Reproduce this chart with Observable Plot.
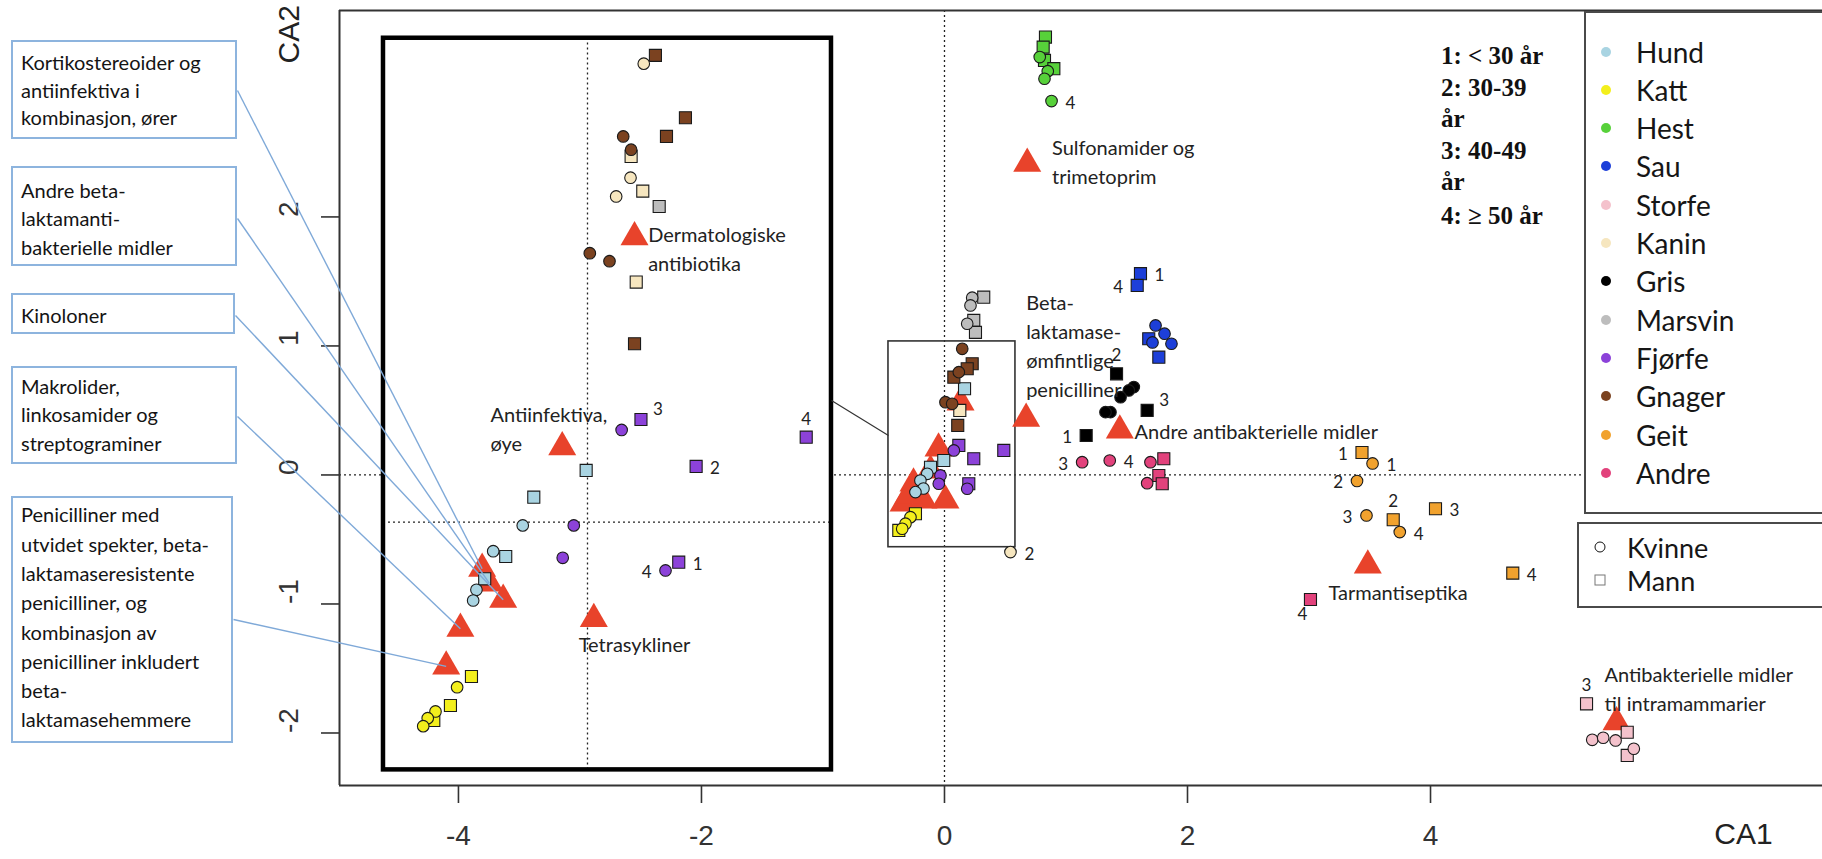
<!DOCTYPE html>
<html>
<head>
<meta charset="utf-8">
<script src="https://cdn.jsdelivr.net/npm/d3@7"></script>
<script src="https://cdn.jsdelivr.net/npm/@observablehq/plot@0.6"></script>
<style>
  body { margin: 0; background: #fff; }
  #wrap { position: relative; width: 1822px; height: 859px; overflow: hidden; font-family: Lato, sans-serif; background: #fff; }
  #wrap svg { position: absolute; left: 0; top: 0; }
  .callout { position: absolute; box-sizing: border-box; border: 2px solid #8db4de; background: #fff; color: #141414;
             font-size: 20px; padding-left: 8px; white-space: pre; }
  .lbox { position: absolute; box-sizing: border-box; border: 2px solid #4a4a4a; background: #fff; }
  .ltext { position: absolute; color: #161616; font-size: 28px; transform: translateY(-50%); line-height: 1; white-space: nowrap; }
  .ldot { position: absolute; width: 10px; height: 10px; border-radius: 50%; transform: translate(-50%, -50%); }
  .age { position: absolute; font-family: "Liberation Serif", serif; font-weight: bold; font-size: 25px; color: #111;
         transform: translateY(-50%); line-height: 1; white-space: nowrap; }
</style>
</head>
<body>
<div id="wrap"></div>
<script>
// ---------------- data ----------------
const species = ["Hund","Katt","Hest","Sau","Storfe","Kanin","Gris","Marsvin","Fjørfe","Gnager","Geit","Andre"];
const speciesColors = ["#a9d4e2","#f3ef1c","#57d13a","#1d3fd9","#f4c2cc","#f6e6bf","#000000","#bdbdbd","#8c42d9","#7b4220","#f1a22e","#e2427c"];
const sexes = ["Kvinne","Mann"];
const ageLegend = ["1: < 30 år","2: 30-39","år","3: 40-49","år","4: ≥ 50 år"];

// point rows: [CA1, CA2, sex (K = kvinne, M = mann), age group label]
const hund = [
  [-2.949, 0.035,"M"],[-3.380,-0.172,"M"],[-3.471,-0.391,"K"],[-3.714,-0.591,"K"],[-3.611,-0.632,"M"],
  [-3.784,-0.805,"M"],[-3.852,-0.890,"K"],[-3.879,-0.973,"K"],
  [0.165,0.668,"M"],[-0.006,0.112,"M"],[-0.115,0.060,"M"],[-0.142,0.009,"K"],[-0.198,-0.043,"K"],
  [-0.173,-0.105,"K"],[-0.239,-0.133,"K"]
];
const katt = [
  [-3.893,-1.562,"M"],[-4.011,-1.645,"K"],[-4.066,-1.787,"M"],[-4.189,-1.833,"K"],[-4.203,-1.903,"M"],
  [-4.253,-1.885,"K"],[-4.290,-1.947,"K"],
  [-0.239,-0.301,"M"],[-0.280,-0.327,"K"],[-0.321,-0.378,"K"],[-0.348,-0.417,"K"],[-0.376,-0.430,"M"]
];
const hest = [
  [0.831,3.394,"M"],[0.812,3.316,"M"],[0.823,3.213,"M"],[0.784,3.239,"K"],[0.900,3.149,"M"],
  [0.850,3.130,"K"],[0.823,3.071,"K"],[0.881,2.898,"K","4"]
];
const sau = [
  [1.613,1.560,"M","1"],[1.586,1.469,"M","4"],[1.737,1.159,"K"],[1.811,1.095,"K"],[1.868,1.017,"K"],
  [1.681,1.056,"M"],[1.712,1.027,"K"],[1.764,0.913,"M"]
];
const storfe = [
  [5.284,-1.774,"M","3"],[5.331,-2.053,"K"],[5.421,-2.037,"K"],[5.523,-2.058,"K"],[5.619,-1.994,"M"],
  [5.673,-2.122,"K"],[5.619,-2.174,"M"]
];
const kanin = [
  [-2.475,3.188,"K"],[-2.579,2.469,"M"],[-2.584,2.304,"K"],[-2.483,2.200,"M"],[-2.702,2.159,"K"],
  [-2.537,1.495,"M"],[0.126,0.500,"M"],[0.543,-0.598,"K","2"]
];
const gris = [
  [1.416,0.784,"M","2"],[1.558,0.681,"K"],[1.517,0.655,"K"],[1.449,0.603,"K"],[1.366,0.487,"K"],
  [1.325,0.487,"K"],[1.668,0.500,"M","3"],[1.166,0.306,"M","1"]
];
const marsvin = [
  [-2.348,2.081,"M"],[0.323,1.378,"M"],[0.228,1.374,"K"],[0.214,1.314,"K"],[0.241,1.198,"M"],
  [0.187,1.172,"K"],[0.255,1.105,"M"]
];
const fjorfe = [
  [-2.498,0.430,"M","3"],[-2.657,0.349,"K"],[-1.138,0.293,"M","4"],[-2.044,0.066,"M","2"],
  [-3.051,-0.391,"K"],[-3.142,-0.642,"K"],[-2.296,-0.740,"K","4"],[-2.187,-0.676,"M","1"],
  [0.118,0.229,"M"],[0.077,0.190,"K"],[0.241,0.126,"M"],[0.488,0.190,"M"],[0.200,-0.068,"M"],
  [0.187,-0.107,"K"],[-0.033,-0.004,"K"],[-0.047,-0.068,"K"]
];
const gnager = [
  [-2.379,3.252,"M"],[-2.132,2.769,"M"],[-2.288,2.624,"M"],[-2.644,2.624,"K"],[-2.579,2.521,"K"],
  [-2.919,1.719,"K"],[-2.757,1.657,"K"],[-2.551,1.017,"M"],
  [0.146,0.978,"K"],[0.228,0.862,"M"],[0.187,0.823,"M"],[0.118,0.797,"K"],[0.077,0.758,"M"],
  [0.008,0.564,"K"],[0.063,0.552,"K"],[0.109,0.384,"M"]
];
const geit = [
  [3.436,0.174,"M","1"],[3.523,0.089,"K","1"],[3.395,-0.047,"K","2"],[3.473,-0.314,"K","3"],
  [3.693,-0.347,"M","2"],[3.747,-0.443,"K","4"],[4.041,-0.262,"M","3"],[4.677,-0.761,"M","4"]
];
const andre = [
  [1.133,0.099,"K","3"],[1.360,0.112,"K","4"],[1.695,0.099,"K"],[1.805,0.126,"M"],[1.764,-0.004,"M"],
  [1.668,-0.064,"K"],[1.792,-0.068,"M"],[3.012,-0.965,"M","4"]
];

// antibiotic groups (red triangles)
const triX = [-2.551,-3.146,-2.886,-3.805,-3.745,-3.632,-3.984,-4.101,
              -0.049,-0.255,-0.337,-0.173,0.008,0.132,-0.115,-0.296,
              0.672,0.681,1.443,3.484,5.531];
const triY = [1.843,0.216,-1.115,-0.727,-0.841,-0.967,-1.192,-1.484,
              0.205,-0.066,-0.221,-0.198,-0.198,0.562,0.035,-0.159,
              0.436,2.412,0.345,-0.702,-1.916];

// in-plot labels of antibiotic groups
const groupLabels = ["Dermatologiske\nantibiotika","Antiinfektiva,\nøye","Tetrasykliner",
  "Sulfonamider og\ntrimetoprim","Beta-\nlaktamase-\nømfintlige\npenicilliner",
  "Andre antibakterielle midler","Tarmantiseptika","Antibakterielle midler\ntil intramammarier"];
const groupLabelX = [-2.439,-3.737,-3.010,0.885,0.672,1.564,3.160,5.432];
const groupLabelY = [1.857,0.461,-1.322,2.531,1.329,0.332,-0.919,-1.554];

// call-out boxes and the triangle each points to
const calloutTexts = [
  "Kortikostereoider og\nantiinfektiva i\nkombinasjon, ører",
  "Andre beta-\nlaktamanti-\nbakterielle midler",
  "Kinoloner",
  "Makrolider,\nlinkosamider og\nstreptograminer",
  "Penicilliner med\nutvidet spekter, beta-\nlaktamaseresistente\npenicilliner, og\nkombinasjon av\npenicilliner inkludert\nbeta-\nlaktamasehemmere"
];
const calloutTarget = [3,4,5,6,7];

const xTicks = [-4,-2,0,2,4];
const yTicks = [-2,-1,0,1,2];

// ---------------- layout ----------------
const W = 1822, H = 859;
const ML = 339, MR = 0, MT = 10, MB = 74;
const xDomain = [-4.979, 7.226], yDomain = [-2.407, 3.60];
const xs = d3.scaleLinear(xDomain, [ML, W - MR]);
const ys = d3.scaleLinear(yDomain, [H - MB, MT]);

const inset = {x1: -4.617, x2: -0.930, y1: -2.286, y2: 3.385};
const insetCross = {x: -2.938, y: -0.366};
const zoomBox = {x1: -0.461, x2: 0.584, y1: -0.560, y2: 1.035};
const zoomLink = {x1: -0.930, y1: 0.578, x2: -0.461, y2: 0.306};

const calloutBoxes = [
  {left: 11, top: 40,  w: 226, h: 99,  pt: 7.2, lh: 27.5, ay: 90},
  {left: 11, top: 166, w: 226, h: 100, pt: 7.7, lh: 28.5, ay: 218},
  {left: 11, top: 293, w: 224, h: 41,  pt: 5.5, lh: 28,   ay: 315},
  {left: 11, top: 366, w: 226, h: 98,  pt: 3.6, lh: 28.7, ay: 416},
  {left: 11, top: 496, w: 222, h: 247, pt: 2.4, lh: 29.3, ay: 619}
];

const labelSide = {
  "Hest-7":"r","Sau-0":"r","Sau-1":"l","Storfe-0":"t","Kanin-7":"r",
  "Gris-0":"t","Gris-6":"tr","Gris-7":"l",
  "Fjørfe-0":"tr","Fjørfe-2":"t","Fjørfe-3":"r","Fjørfe-6":"l","Fjørfe-7":"r",
  "Geit-0":"l","Geit-1":"r","Geit-2":"l","Geit-3":"l","Geit-4":"t","Geit-5":"r","Geit-6":"r","Geit-7":"r",
  "Andre-0":"l","Andre-1":"r","Andre-7":"b"
};
const sideOffset = {r: [14, 2], l: [-14, 2], t: [0, -18], b: [-8, 15], tr: [12, -10]};

// ---------------- build tables ----------------
const groups = [hund, katt, hest, sau, storfe, kanin, gris, marsvin, fjorfe, gnager, geit, andre];
const points = [];
groups.forEach((g, si) => g.forEach((p, i) => points.push({
  species: species[si], x: p[0], y: p[1], sex: p[2], age: p[3], key: species[si] + "-" + i,
  size: p[2] === "K" ? 5.8 : 6.8
})));
const triangles = triX.map((x, i) => ({x, y: triY[i]}));
const labels = groupLabels.map((t, i) => ({text: t, x: groupLabelX[i], y: groupLabelY[i]}));
const links = calloutTarget.map((ti, i) => ({
  x1: xs.invert(calloutBoxes[i].left + calloutBoxes[i].w), y1: ys.invert(calloutBoxes[i].ay),
  x2: triangles[ti].x, y2: triangles[ti].y
}));

const dotted = {stroke: "#222", strokeWidth: 1.3, strokeDasharray: "2,3"};
const ageMarks = Object.entries(sideOffset).map(([side, [dx, dy]]) =>
  Plot.text(points.filter(p => p.age && labelSide[p.key] === side), {
    x: "x", y: "y", text: "age", dx, dy, fontSize: 17, fill: "#222",
    textAnchor: side === "l" ? "end" : (side === "r" || side === "tr") ? "start" : "middle"
  })
);

const plot = Plot.plot({
  width: W, height: H,
  marginLeft: ML, marginRight: MR, marginTop: MT, marginBottom: MB,
  x: {domain: xDomain},
  y: {domain: yDomain},
  r: {type: "identity"},
  symbol: {domain: ["K", "M"], range: ["circle", "square"]},
  color: {domain: species, range: speciesColors},
  style: {fontFamily: "Lato, sans-serif", background: "#fff", overflow: "visible"},
  marks: [
    Plot.ruleX([0], dotted),
    Plot.ruleY([0], dotted),
    Plot.rect([inset], {x1: "x1", x2: "x2", y1: "y1", y2: "y2", fill: "#fff"}),
    Plot.ruleX([insetCross.x], {...dotted, y1: inset.y1, y2: inset.y2}),
    Plot.ruleY([insetCross.y], {...dotted, x1: inset.x1, x2: inset.x2}),
    Plot.rect([inset], {x1: "x1", x2: "x2", y1: "y1", y2: "y2", fill: "none", stroke: "#000", strokeWidth: 4.5}),
    Plot.rect([zoomBox], {x1: "x1", x2: "x2", y1: "y1", y2: "y2", fill: "none", stroke: "#333", strokeWidth: 1.6}),
    Plot.link([zoomLink], {x1: "x1", y1: "y1", x2: "x2", y2: "y2", stroke: "#333", strokeWidth: 1.2}),
    // frame
    Plot.ruleX([xDomain[0]], {stroke: "#333", strokeWidth: 2}),
    Plot.ruleY(yDomain, {stroke: "#333", strokeWidth: 2}),
    // axes
    Plot.axisX(xTicks, {tickSize: 18, tickPadding: 22, fontSize: 28, fontFamily: "Liberation Sans",
                        tickFormat: d => String(d), label: null, color: "#333", strokeWidth: 1.6}),
    Plot.axisY(yTicks, {tickSize: 18, tickFormat: () => "", label: null, color: "#333", strokeWidth: 1.6}),
    Plot.text(yTicks, {y: d => d, text: d => String(d), frameAnchor: "left", dx: -50, rotate: -90,
                       fontSize: 28, fontFamily: "Liberation Sans", fill: "#333", lineAnchor: "middle"}),
    Plot.text(["CA1"], {x: 6.576, frameAnchor: "bottom", dy: 49, fontSize: 30, fontFamily: "Liberation Sans",
                        fill: "#222", lineAnchor: "middle"}),
    Plot.text(["CA2"], {y: 3.19, frameAnchor: "left", dx: -50, rotate: -90, fontSize: 30,
                        fontFamily: "Liberation Sans", fill: "#222", lineAnchor: "middle"}),
    // antibiotic groups (drawn beneath the respondent points)
    Plot.dot(triangles, {x: "x", y: "y", symbol: "triangle", r: 10.4, fill: "#e8432b"}),
    // respondent points, in data order
    Plot.dot(points, {x: "x", y: "y", fill: "species", symbol: "sex", r: "size",
                      stroke: "#1a1a1a", strokeWidth: 1.1}),
    Plot.link(links, {x1: "x1", y1: "y1", x2: "x2", y2: "y2", stroke: "#7fa9d8", strokeWidth: 1.4}),
    Plot.text(labels, {x: "x", y: "y", text: "text", textAnchor: "start", lineAnchor: "top", dy: -14,
                       fontSize: 20, lineHeight: 1.45, fill: "#222"}),
    ...ageMarks
  ]
});

const wrap = document.getElementById("wrap");
wrap.appendChild(plot);

// call-out boxes
calloutBoxes.forEach((b, i) => {
  const d = document.createElement("div");
  d.className = "callout";
  Object.assign(d.style, {left: b.left + "px", top: b.top + "px", width: b.w + "px", height: b.h + "px",
                          paddingTop: b.pt + "px", lineHeight: b.lh + "px"});
  d.textContent = calloutTexts[i];
  wrap.appendChild(d);
});

// species legend
const lb = document.createElement("div");
lb.className = "lbox";
Object.assign(lb.style, {left: "1584px", top: "11px", width: "280px", height: "503px"});
wrap.appendChild(lb);
species.forEach((s, i) => {
  const cy = 51.5 + i * 38.3;
  const dot = document.createElement("div");
  dot.className = "ldot";
  Object.assign(dot.style, {left: "1606px", top: cy + "px", background: speciesColors[i]});
  wrap.appendChild(dot);
  const t = document.createElement("div");
  t.className = "ltext";
  Object.assign(t.style, {left: "1636px", top: cy + "px"});
  t.textContent = s;
  wrap.appendChild(t);
});

// sex legend
const sb = document.createElement("div");
sb.className = "lbox";
Object.assign(sb.style, {left: "1577px", top: "522px", width: "290px", height: "86px"});
wrap.appendChild(sb);
sexes.forEach((s, i) => {
  const cy = 547 + i * 33;
  const m = document.createElement("div");
  Object.assign(m.style, {position: "absolute", left: "1600px", top: cy + "px", width: "11px", height: "11px",
    boxSizing: "border-box", border: i === 0 ? "1.6px solid #111" : "1.6px solid #777",
    borderRadius: i === 0 ? "50%" : "0", transform: "translate(-50%,-50%)"});
  wrap.appendChild(m);
  const t = document.createElement("div");
  t.className = "ltext";
  Object.assign(t.style, {left: "1627px", top: cy + "px", fontSize: "27px"});
  t.textContent = s;
  wrap.appendChild(t);
});

// age legend
const ageY = [55, 87, 118, 150, 181, 215];
ageLegend.forEach((s, i) => {
  const t = document.createElement("div");
  t.className = "age";
  Object.assign(t.style, {left: "1441px", top: ageY[i] + "px"});
  t.textContent = s;
  wrap.appendChild(t);
});
</script>
</body>
</html>
